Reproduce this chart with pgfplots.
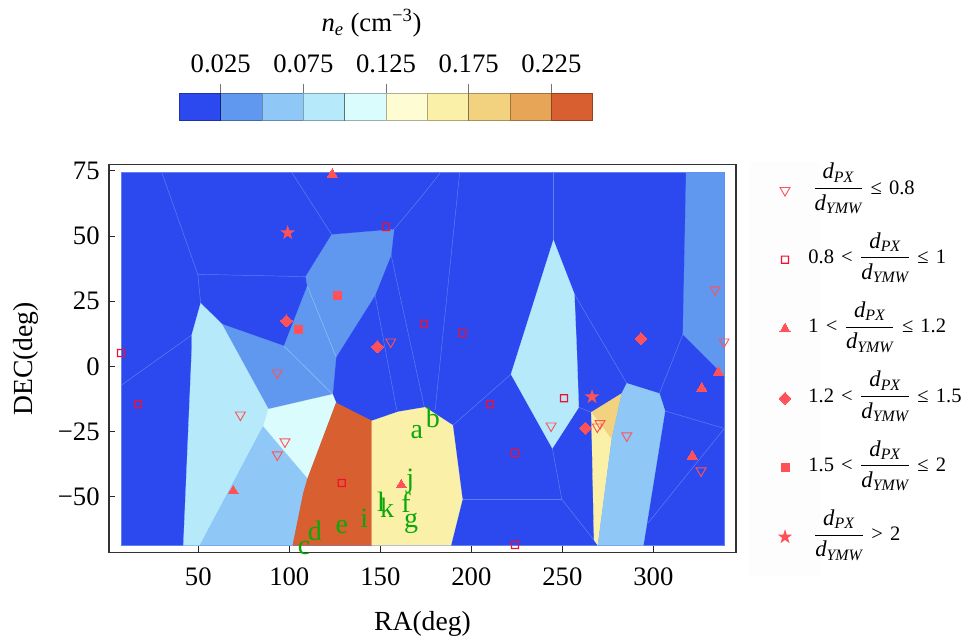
\documentclass[border=0pt]{standalone}
\usepackage{amsmath}
\usepackage{fontspec}
\setmainfont{Liberation Serif}
\usepackage{pgfplots}
\pgfplotsset{compat=1.18}
\definecolor{c1}{HTML}{2B49EF}
\definecolor{c2}{HTML}{6098F0}
\definecolor{c3}{HTML}{8FC8F6}
\definecolor{c4}{HTML}{B6EAFB}
\definecolor{c5}{HTML}{DBFCFC}
\definecolor{c6}{HTML}{FEFCD2}
\definecolor{c7}{HTML}{FAF0A8}
\definecolor{c8}{HTML}{F2D27F}
\definecolor{c9}{HTML}{E6A557}
\definecolor{c10}{HTML}{D75F30}
\definecolor{edge}{HTML}{6080F2}
\definecolor{mk}{HTML}{FF5258}
\definecolor{opensq}{HTML}{F01030}
\definecolor{lettr}{HTML}{0BA80B}
\pgfdeclareplotmark{fstar}{%
  \pgfpathmoveto{\pgfpointpolar{90}{\pgfplotmarksize}}%
  \pgfpathlineto{\pgfpointpolar{126}{0.382\pgfplotmarksize}}%
  \pgfpathlineto{\pgfpointpolar{162}{\pgfplotmarksize}}%
  \pgfpathlineto{\pgfpointpolar{198}{0.382\pgfplotmarksize}}%
  \pgfpathlineto{\pgfpointpolar{234}{\pgfplotmarksize}}%
  \pgfpathlineto{\pgfpointpolar{270}{0.382\pgfplotmarksize}}%
  \pgfpathlineto{\pgfpointpolar{306}{\pgfplotmarksize}}%
  \pgfpathlineto{\pgfpointpolar{342}{0.382\pgfplotmarksize}}%
  \pgfpathlineto{\pgfpointpolar{18}{\pgfplotmarksize}}%
  \pgfpathlineto{\pgfpointpolar{54}{0.382\pgfplotmarksize}}%
  \pgfpathclose\pgfusepathqfill}
\pgfdeclareplotmark{osq}{%
  \pgfseteorule
  \pgfpathrectangle{\pgfpoint{-3.1pt}{-3.1pt}}{\pgfpoint{6.2pt}{6.2pt}}%
  \pgfpathrectangle{\pgfpoint{-2.2pt}{-2.2pt}}{\pgfpoint{4.4pt}{4.4pt}}%
  \pgfusepathqfill}
\newcommand{\fr}{{\fontsize{17}{20}\selectfont\ensuremath{\dfrac{\textit{d}_{\textit{PX}}}{\textit{d}_{\textit{YMW}}}}}}
\newcommand{\g}{\hspace{1.5pt}}
\pgfplotstableread{
x y l
170.0 -25.3 a
178.8 -19.8 b
108.1 -69.7 c
114.1 -63.2 d
128.8 -61.5 e
141.2 -58.2 i
150.4 -51.9 l
153.7 -54.3 k
164.1 -52.4 f
166.9 -60.1 g
166.4 -44.2 j
}\letters
\pgfplotsset{
  region/.style={fill=#1,draw=#1,line width=0.2pt,forget plot},
  thin edge/.style={draw=edge,line width=0.35pt,forget plot},
}
\begin{document}
\begin{tikzpicture}
\path[use as bounding box] (0,0) rectangle (726.75pt,479.25pt);
\fill[black!0.8] (562pt,47pt) rectangle (616pt,358pt);
% colour bar
\begin{axis}[at={(134.5pt,388.7pt)},anchor=south west,scale only axis,
  width=310pt,height=20.6pt,xmin=0,xmax=0.25,ymin=0,ymax=1,
  ytick=\empty,xtick={0.025,0.075,0.125,0.175,0.225},
  xticklabels={0.025,0.075,0.125,0.175,0.225},
  xtick pos=top,xticklabel pos=top,tick align=outside,
  major tick length=7pt,
  tick style={draw=black!55,line width=0.5pt},
  axis line style={draw=black!45,line width=0.4pt},
  tick label style={font=\fontsize{20}{24}\selectfont},
  xticklabel shift=5pt,
  clip=false,
  title={\fontsize{20}{24}\selectfont\textit{n}$_{\textit{e}}$ (cm$^{\text{−3}}$)},
  title style={at={(0.465,1)},anchor=south,yshift=32.6pt},
]
\addplot[fill=c1,draw=black,draw opacity=.3,line width=.4pt] coordinates {(0,0)(0.025,0)(0.025,1)(0,1)} --cycle;
\addplot[fill=c2,draw=black,draw opacity=.3,line width=.4pt] coordinates {(0.025,0)(0.05,0)(0.05,1)(0.025,1)} --cycle;
\addplot[fill=c3,draw=black,draw opacity=.3,line width=.4pt] coordinates {(0.05,0)(0.075,0)(0.075,1)(0.05,1)} --cycle;
\addplot[fill=c4,draw=black,draw opacity=.3,line width=.4pt] coordinates {(0.075,0)(0.1,0)(0.1,1)(0.075,1)} --cycle;
\addplot[fill=c5,draw=black,draw opacity=.3,line width=.4pt] coordinates {(0.1,0)(0.125,0)(0.125,1)(0.1,1)} --cycle;
\addplot[fill=c6,draw=black,draw opacity=.3,line width=.4pt] coordinates {(0.125,0)(0.15,0)(0.15,1)(0.125,1)} --cycle;
\addplot[fill=c7,draw=black,draw opacity=.3,line width=.4pt] coordinates {(0.15,0)(0.175,0)(0.175,1)(0.15,1)} --cycle;
\addplot[fill=c8,draw=black,draw opacity=.3,line width=.4pt] coordinates {(0.175,0)(0.2,0)(0.2,1)(0.175,1)} --cycle;
\addplot[fill=c9,draw=black,draw opacity=.3,line width=.4pt] coordinates {(0.2,0)(0.225,0)(0.225,1)(0.2,1)} --cycle;
\addplot[fill=c10,draw=black,draw opacity=.3,line width=.4pt] coordinates {(0.225,0)(0.25,0)(0.25,1)(0.225,1)} --cycle;
\end{axis}
% main map
\begin{axis}[at={(81.75pt,65pt)},anchor=south west,scale only axis,
  width=470.25pt,height=290.7pt,
  xmin=0.93,xmax=345.4,ymin=-71.3,ymax=77.3,
  xtick={50,100,150,200,250,300},xticklabels={50,100,150,200,250,300},
  ytick={-50,-25,0,25,50,75},yticklabels={−50,−25,0,25,50,75},
  xtick pos=bottom,ytick pos=left,tick align=inside,
  major tick length=4.6pt,
  tick style={draw=black!85,line width=0.5pt},
  axis line style={draw=black!80,line width=0.8pt},
  tick label style={font=\fontsize{20}{24}\selectfont},
  xticklabel shift=8pt,yticklabel shift=3.5pt,
  label style={font=\fontsize{20.7}{24}\selectfont},
  xlabel={RA(deg)},ylabel={DEC(deg)},
  xlabel style={at={(0.5,-0.2023)},anchor=base},
  ylabel style={at={(-0.122,0.499)},anchor=base,rotate=0},
  clip=false,
  legend cell align=left,
  legend image post style={yshift=-8pt},
  legend style={at={(1.066,1.012)},anchor=north west,draw=none,fill=none,inner sep=0pt,
    font=\fontsize{15.4}{18}\selectfont,row sep=23pt,
    /tikz/every odd column/.append style={column sep=10pt},
    nodes={inner sep=2pt}},
]
% base field
\addplot[region=c1] coordinates {(7.7,74.4)(339,74.4)(339,-68.6)(7.7,-68.6)} --cycle;
\addplot[draw=edge,line width=0.5pt,forget plot] coordinates {(7.7,74.4)(339,74.4)(339,-68.6)(7.7,-68.6)} --cycle;
% faint cell borders
\addplot[thin edge] coordinates {(29.9,74.4)(49.7,35.3)(109.0,34.4)};
\addplot[thin edge] coordinates {(49.7,35.3)(51.3,24.2)};
\addplot[thin edge] coordinates {(101.3,74.4)(123.3,50.5)};
\addplot[thin edge] coordinates {(157.5,52.5)(171.8,64.4)(183.2,74.4)};
\addplot[thin edge] coordinates {(155.9,42.7)(174.2,-15.7)};
\addplot[thin edge] coordinates {(147.1,27.3)(159.0,-16.8)};
\addplot[thin edge] coordinates {(46.4,12.0)(7.7,-7.2)};
\addplot[thin edge] coordinates {(193.6,74.4)(180.1,-16.8)};
\addplot[thin edge] coordinates {(245.1,74.4)(245.1,48.4)};
\addplot[thin edge] coordinates {(256.6,27.7)(285.4,-6.5)};
\addplot[thin edge] coordinates {(316.2,12.3)(303.3,-10.4)};
\addplot[thin edge] coordinates {(221.8,-3.0)(189.8,-22.6)};
\addplot[thin edge] coordinates {(259.0,-15.7)(265.9,-17.6)};
\addplot[thin edge] coordinates {(244.5,-31.4)(249.7,-51.0)};
\addplot[thin edge] coordinates {(195.1,-51.0)(249.7,-51.0)};
\addplot[thin edge] coordinates {(249.7,-51.0)(267.4,-66.6)};
\addplot[thin edge] coordinates {(306.4,-17.1)(339,-23.8)};
\addplot[thin edge] coordinates {(296.9,-60.2)(339,-23.8)};
% coloured cells
\addplot[region=c2] coordinates {(123.3,50.5)(157.5,52.5)(155.9,42.7)(147.1,27.3)(125.7,3.6)(123.8,-10.7)(88.5,-16.4)(62.9,16.2)(97.1,7.8)(109.9,30.8)(109.0,34.4)} --cycle;
\addplot[thin edge,draw=c3] coordinates {(97.1,7.8)(123.8,-10.7)};
\addplot[thin edge,draw=c3] coordinates {(109.9,30.8)(125.7,3.6)};
\addplot[region=c4] coordinates {(51.3,24.2)(62.9,16.2)(88.5,-16.4)(85.7,-22.9)(50.9,-68.6)(41.8,-68.6)(46.4,6.25)(46.4,12.0)} --cycle;
\addplot[region=c3] coordinates {(85.7,-22.9)(110.1,-42.9)(107.7,-48.6)(101.9,-68.6)(50.9,-68.6)} --cycle;
\addplot[region=c5] coordinates {(88.5,-16.4)(123.8,-10.7)(125.7,-14.0)(110.1,-42.9)(85.7,-22.9)} --cycle;
\addplot[region=c10] coordinates {(125.7,-14.0)(145.3,-20.9)(145.3,-68.6)(101.9,-68.6)(107.7,-48.6)(110.1,-42.9)} --cycle;
\addplot[region=c7] coordinates {(145.3,-20.9)(159.9,-17.4)(174.6,-15.7)(189.8,-22.6)(195.1,-51.0)(188.8,-68.6)(145.3,-68.6)} --cycle;
\addplot[region=c4] coordinates {(245.1,48.4)(256.6,27.7)(257.9,6.25)(259.0,-15.7)(244.5,-31.4)(221.8,-3.0)} --cycle;
\addplot[region=c2] coordinates {(318.0,74.4)(339,74.4)(339,-3.6)(316.2,12.3)(317.4,52.9)} --cycle;
\addplot[region=c8] coordinates {(265.9,-17.6)(282.6,-10.4)(277.1,-28.0)} --cycle;
\addplot[region=c7] coordinates {(265.9,-17.6)(277.1,-28.0)(269.5,-68.6)(267.4,-66.6)} --cycle;
\addplot[region=c3] coordinates {(282.6,-10.4)(285.4,-6.5)(303.3,-10.4)(306.4,-17.1)(294.5,-68.6)(269.5,-68.6)(277.1,-28.0)} --cycle;
% pulsars
\addplot[only marks,mark=triangle,mark size=4.3pt,mark options={rotate=180,draw=mk,fill=none,line width=0.7pt}] coordinates {
(155.7,9.4)(333.9,29.4)(338.8,9.4)(93.4,-2.5)(73.1,-18.6)(97.6,-28.9)(93.4,-33.9)(243.8,-22.8)(270.7,-21.9)(269.2,-23.2)(285.4,-26.6)(326.2,-40.0)};
\addlegendentry{\hspace*{3.5pt}\fr\g\ ≤\g\ 0.8}
\addplot[only marks,mark=osq,mark options={draw=none,fill=opensq}] coordinates {
(7.5,5.1)(153.1,53.4)(16.9,-14.5)(128.8,-44.7)(174.0,16.2)(195.1,12.8)(210.3,-14.5)(250.9,-12.2)(224.0,-33.2)(224.0,-68.5)};
\addlegendentry{0.8\g\ <\g\ \fr\g\ ≤\g\ 1}
\addplot[only marks,mark=triangle*,mark size=4.4pt,mark options={draw=mk,fill=mk,line width=0pt}] coordinates {
(123.6,73.6)(69.2,-47.8)(161.5,-45.5)(335.7,-2.3)(326.6,-8.4)(321.4,-34.4)};
\addlegendentry{1\g\ <\g\ \fr\g\ ≤\g\ 1.2}
\addplot[only marks,mark=diamond*,mark size=4.5pt,mark options={xscale=1.33,draw=mk,fill=mk,line width=0pt}] coordinates {
(98.4,17.4)(148.4,7.5)(293.2,10.5)(262.6,-23.7)};
\addlegendentry{1.2\g\ <\g\ \fr\g\ ≤\g\ 1.5}
\addplot[only marks,mark=square*,mark size=3pt,mark options={draw=mk,fill=mk,line width=0pt}] coordinates {
(126.6,27.1)(104.9,14.3)};
\addlegendentry{1.5\g\ <\g\ \fr\g\ ≤\g\ 2}
\addplot[only marks,mark=fstar,mark size=5.8pt,mark options={draw=mk,fill=mk,line width=0pt}] coordinates {
(99.1,51.2)(266.3,-11.7)};
\addlegendentry{\hspace*{4pt}\fr\g\ >\g\ 2}
% letters
\addplot[only marks,mark=none,forget plot,nodes near coords,point meta=explicit symbolic,
  nodes near coords style={anchor=center,inner sep=0pt,text=lettr,font=\fontsize{21}{24}\selectfont}]
  table[x=x,y=y,meta=l] {\letters};
\end{axis}
\end{tikzpicture}
\end{document}
